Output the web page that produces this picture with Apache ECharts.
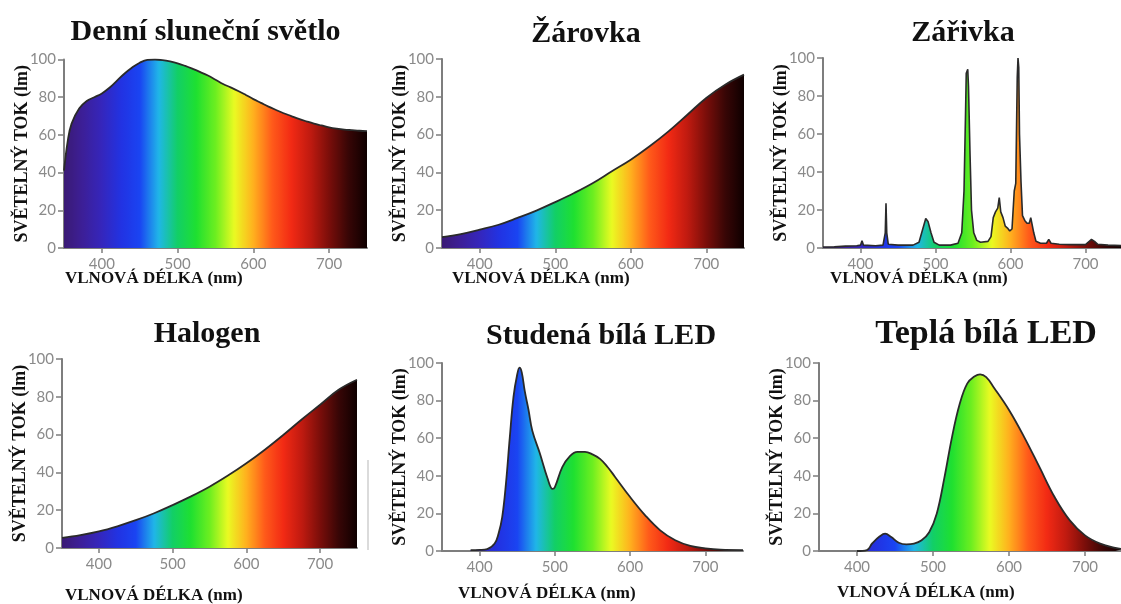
<!DOCTYPE html>
<html><head><meta charset="utf-8">
<script src="https://cdn.jsdelivr.net/npm/echarts@6/dist/echarts.min.js"></script>
<style>html,body{margin:0;padding:0;background:#fff}#c{width:1121px;height:604px}</style>
</head><body><div id="c"></div>
<script>
// ---------- texts ----------
const panelTitles = ['Denní sluneční světlo', 'Žárovka', 'Zářivka', 'Halogen', 'Studená bílá LED', 'Teplá bílá LED'];
const xAxisName = 'VLNOVÁ DÉLKA (nm)';
const yAxisName = 'SVĚTELNÝ TOK (lm)';
const xTickLabels = [400, 500, 600, 700];
const wavelengthRange = [350, 750];
const fluxRange = [0, 100];

// spectrum colours, evenly spaced from 350 nm to 750 nm (every 25 nm)
const spectrumColors = ['#3b1a74', '#3c1f98', '#3526bc', '#2232e2', '#1a44f2', '#20b6e8', '#12cf66',
  '#1fe030', '#6cee20', '#eafa22', '#ffb01e', '#ff5a1a', '#f22a14', '#c01a10', '#7a0e0a', '#380606', '#0e0000'];

// ---------- data ----------
const daylightNm  = [350, 355, 360, 370, 380, 390, 400, 410, 420, 430, 440, 450, 460, 470, 480, 490, 500, 510, 520, 530, 540, 550, 560, 570, 580, 590, 600, 610, 620, 630, 640, 650, 660, 670, 680, 690, 700, 710, 720, 730, 740, 750];
const daylightVal = [41, 57, 66, 74, 78, 80, 82, 85, 88.8, 92.6, 95.8, 98.3, 99.8, 100, 99.7, 99, 98, 96.6, 95, 93.3, 91.5, 89.3, 87, 85.2, 83.3, 81.2, 79, 77, 75, 73.2, 71.5, 70, 68.5, 67.2, 66, 65, 64, 63.3, 62.8, 62.5, 62.2, 62];

const bulbNm  = [350, 375, 400, 425, 450, 475, 500, 525, 550, 575, 600, 625, 650, 675, 700, 725, 750];
const bulbVal = [5.8, 7.4, 9.7, 12.3, 15.9, 19.8, 24.3, 29.1, 34.4, 40.6, 46.7, 53.8, 61.7, 70.5, 79.4, 86.4, 91.7];

const fluoNm  = [350, 365, 380, 395, 400, 402, 404, 420, 430, 433, 434, 435, 437, 450, 470, 478, 483, 487, 490, 494, 498, 505, 520, 530, 535, 538, 540, 541, 543, 544, 546, 548, 551, 555, 560, 570, 574, 577, 580, 583, 585, 587, 590, 593, 596, 599, 602, 605, 607, 609, 610, 611, 612, 614, 616, 619, 622, 625, 627, 629, 631, 634, 640, 648, 651, 654, 665, 680, 700, 705, 708, 712, 716, 730, 750];
const fluoVal = [0.5, 0.6, 1, 1.2, 1.5, 3.8, 1.5, 1.2, 1.5, 8, 23.5, 8, 2, 1.5, 1.5, 3, 10, 15.5, 14, 8, 3, 1.5, 1.5, 2.5, 8, 30, 70, 92, 94, 85, 50, 20, 8, 4, 3, 3.5, 6, 16, 19, 21, 26.5, 19, 16, 11.5, 10.5, 9, 10, 30, 34, 90, 100, 95, 60, 35, 17, 14.5, 13, 13, 16, 15.5, 8, 3.5, 2.5, 2.5, 4.5, 2.5, 2, 1.8, 1.8, 3.5, 4.5, 3.5, 2, 1.5, 1.2];

const halogenNm  = [350, 375, 400, 425, 450, 475, 500, 525, 550, 575, 600, 625, 650, 675, 700, 725, 750];
const halogenVal = [5.3, 6.8, 8.8, 11.5, 14.7, 18.4, 22.7, 27.3, 32.4, 38.3, 44.8, 52, 59.8, 68, 75.8, 83.7, 89];

const coldLedNm  = [388, 400, 410, 420, 425, 430, 435, 440, 445, 450, 453, 456, 460, 465, 470, 480, 490, 497, 500, 510, 520, 530, 540, 550, 560, 570, 580, 600, 620, 640, 660, 680, 700, 720, 750];
const coldLedVal = [0.5, 0.6, 1, 4, 9, 18, 36, 60, 82, 94, 97.5, 95, 85, 75, 64, 52, 39, 33, 34, 44.7, 50.5, 52.7, 52.7, 51.4, 49, 44.7, 39.4, 28.7, 19, 11, 5.7, 2.7, 1.4, 0.7, 0.5];

const warmLedNm  = [400, 413, 420, 430, 437, 445, 455, 465, 475, 485, 495, 505, 515, 525, 535, 545, 555, 562, 570, 580, 600, 620, 640, 660, 680, 700, 720, 740, 750];
const warmLedVal = [0, 0.5, 4, 7.8, 9.2, 7.4, 4.4, 3.5, 3.9, 5.7, 10, 20, 39, 60.6, 78, 89, 93, 94, 92.5, 87, 75, 60.6, 44.7, 28.7, 16.3, 8.3, 3.9, 1.6, 1];

const spectra = [
  { nm: daylightNm, val: daylightVal, smooth: true },
  { nm: bulbNm, val: bulbVal, smooth: true },
  { nm: fluoNm, val: fluoVal, smooth: false },
  { nm: halogenNm, val: halogenVal, smooth: true },
  { nm: coldLedNm, val: coldLedVal, smooth: true },
  { nm: warmLedNm, val: warmLedVal, smooth: true }
];

// ---------- layout (styles) ----------
const grids = [
  { left: 64, top: 59.5, width: 303, height: 188.5 },
  { left: 442, top: 59, width: 302, height: 189 },
  { left: 823, top: 58, width: 300, height: 190 },
  { left: 62, top: 359, width: 295, height: 189 },
  { left: 442, top: 363, width: 301, height: 188 },
  { left: 819, top: 363, width: 304, height: 188 }
];
const titlePos = [[205.5, 32.5], [586, 34], [963, 33.7], [207, 334], [601, 336], [986, 334]];
const titleSize = [30, 30, 30, 30, 30, 34];
const xNamePos = [[65, 279], [452, 279], [830, 279], [65, 596], [458, 593.5], [837, 592.5]];

const axisGray = '#7e7e7e';
const labelGray = '#8a8a8a';
const serif = '"Liberation Serif", "Times New Roman", serif';

const option = {
  backgroundColor: '#ffffff',
  animation: false,
  grid: grids.map(g => Object.assign({ outerBoundsMode: 'none', containLabel: false }, g)),
  xAxis: grids.map((g, i) => ({
    gridIndex: i, type: 'value', min: wavelengthRange[0], max: wavelengthRange[1],
    axisLine: { show: true, onZero: false, lineStyle: { color: axisGray, width: 2 } },
    axisTick: { show: true, customValues: xTickLabels, length: 5, lineStyle: { color: axisGray, width: 1.5 } },
    axisLabel: { customValues: xTickLabels, color: labelGray, fontFamily: 'Lato', fontSize: 15, margin: 9 },
    splitLine: { show: false }
  })),
  yAxis: grids.map((g, i) => ({
    gridIndex: i, type: 'value', min: fluxRange[0], max: fluxRange[1], interval: 20,
    axisLine: { show: true, lineStyle: { color: axisGray, width: 2 } },
    axisTick: { show: true, length: 6, lineStyle: { color: axisGray, width: 1.5 } },
    axisLabel: { color: labelGray, fontFamily: 'Lato', fontSize: 15, margin: 8 },
    splitLine: { show: false },
    name: yAxisName, nameLocation: 'middle', nameGap: 33, nameRotate: 90, nameMoveOverlap: false,
    nameTextStyle: { fontFamily: serif, fontWeight: 'bold', fontSize: 18, color: '#111' }
  })),
  visualMap: [{
    type: 'continuous', show: false, dimension: 0,
    min: wavelengthRange[0], max: wavelengthRange[1],
    seriesIndex: [0, 1, 2, 3, 4, 5],
    inRange: { color: spectrumColors }
  }],
  series: spectra.map((s, i) => ({
    type: 'line', xAxisIndex: i, yAxisIndex: i,
    data: s.nm.map((x, k) => [x, s.val[k]]),
    showSymbol: false, symbol: 'none',
    smooth: s.smooth ? 0.4 : false,
    lineStyle: { color: '#2a2a2a', width: s.smooth ? 1.8 : 1.6 },
    areaStyle: { opacity: 1 },
    silent: true
  })),
  graphic: [].concat(
    panelTitles.map((t, i) => ({
      type: 'text', x: titlePos[i][0], y: titlePos[i][1],
      style: { text: t, fontFamily: serif, fontWeight: 'bold', fontSize: titleSize[i], fill: '#111', align: 'center', verticalAlign: 'middle' }
    })),
    xNamePos.map(p => ({
      type: 'text', x: p[0], y: p[1],
      style: { text: xAxisName, fontFamily: serif, fontWeight: 'bold', fontSize: 17, fill: '#111', align: 'left', verticalAlign: 'middle' }
    })),
    [{ type: 'line', shape: { x1: 368, y1: 460, x2: 368, y2: 550 }, style: { stroke: '#cfcfcf', lineWidth: 1.5 } }]
  )
};

const chart = echarts.init(document.getElementById('c'), null, { renderer: 'canvas' });
chart.setOption(option);
</script>
</body></html>
